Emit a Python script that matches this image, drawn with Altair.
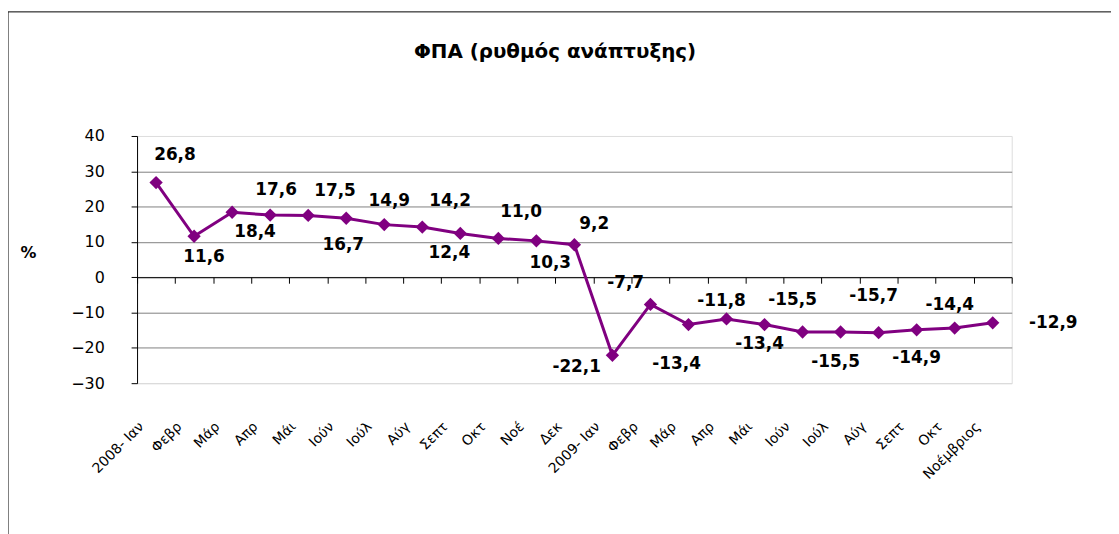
import json
import altair as alt
import pandas as pd

# ---- data ----
months = ["2008- Ιαν", "Φεβρ", "Μάρ", "Απρ", "Μάι", "Ιούν", "Ιούλ", "Αύγ",
          "Σεπτ", "Οκτ", "Νοέ", "Δεκ", "2009- Ιαν", "Φεβρ", "Μάρ", "Απρ",
          "Μάι", "Ιούν", "Ιούλ", "Αύγ", "Σεπτ", "Οκτ", "Νοέμβριος"]
values = [26.8, 11.6, 18.4, 17.6, 17.5, 16.7, 14.9, 14.2, 12.4, 11.0, 10.3, 9.2,
          -22.1, -7.7, -13.4, -11.8, -13.4, -15.5, -15.5, -15.7, -14.9, -14.4, -12.9]
# label nudges (pixels) relative to each point
label_dx = [19, 10, 23, 6, 27, -3, 5, 28, -11, 23, 14, 20,
            -36, -25, -12, -5, -5, -10, -5, -5, 0, -5, 61]
label_dy = [-28, 21, 20, -25, -25, 27, -24, -26, 20, -27, 22, -21,
            12, -22, 40, -18, 20, -32, 30, -37, 28, -23, 0]
y_ticks = [-30, -20, -10, 0, 10, 20, 30, 40]
title_text = "ΦΠΑ (ρυθμός ανάπτυξης)"

FONT = "DejaVu Sans"
PURPLE = "#800080"
W, H = 881, 249
YMIN, YMAX = -30, 40

df = pd.DataFrame({
    "idx": list(range(len(values))),
    "value": values,
    "label": [f"{v:.1f}".replace(".", ",") for v in values],
})

label_expr = json.dumps(months, ensure_ascii=False) + "[datum.value]"
zero_offset = -H * (0 - YMIN) / (YMAX - YMIN)

x_enc = alt.X(
    "idx:O",
    scale=alt.Scale(type="band", paddingInner=0, paddingOuter=0),
    axis=alt.Axis(
        title=None,
        orient="bottom",
        offset=zero_offset,
        labelExpr=label_expr,
        labelAngle=-45,
        labelAlign="right",
        labelBaseline="middle",
        labelPadding=142,
        labelOffset=-15,
        labelFont=FONT,
        labelFontSize=14,
        labelColor="black",
        labelOverlap=False,
        labelBound=False,
        labelFlush=False,
        domainColor="black",
        domainWidth=1,
        tickColor="black",
        tickSize=6,
        tickBand="extent",
        grid=False,
    ),
)

y_enc = alt.Y(
    "value:Q",
    scale=alt.Scale(domain=[YMIN, YMAX], nice=False, zero=False),
    axis=alt.Axis(
        values=y_ticks,
        title="%",
        titleAngle=0,
        titleAlign="center",
        titleBaseline="middle",
        titleX=-110,
        titleY=117,
        titleFont=FONT,
        titleFontSize=16,
        titleFontWeight="bold",
        titleColor="black",
        labelFont=FONT,
        labelFontSize=16,
        labelColor="black",
        labelPadding=27,
        domainColor="black",
        tickColor="black",
        tickSize=6,
        grid=True,
        gridColor={"condition": {"test": "datum.value === -30", "value": "#d9d9d9"},
                   "value": "#808080"},
        gridOpacity={"condition": {"test": "datum.value === 40", "value": 0},
                     "value": 1},
        gridWidth=1,
    ),
)

base = alt.Chart(df)

line = base.mark_line(color=PURPLE, strokeWidth=3).encode(x=x_enc, y=y_enc)
points = base.mark_point(shape="diamond", filled=True, size=180, color=PURPLE,
                         opacity=1).encode(x=x_enc, y=y_enc)

label_layers = []
for i in range(len(values)):
    label_layers.append(
        base.transform_filter(alt.datum.idx == i).mark_text(
            font=FONT, fontSize=17, fontWeight="bold", color="black",
            align="center", baseline="middle",
            dx=label_dx[i], dy=label_dy[i],
        ).encode(x=x_enc, y=y_enc, text="label:N")
    )

one = alt.Data(values=[{"k": 0}])
frame_left = alt.Chart(one).mark_rule(color="black", strokeWidth=1).encode(
    x=alt.value(-130), y=alt.value(-125), y2=alt.value(H + 200))
frame_top = alt.Chart(one).mark_rule(color="black", strokeWidth=1).encode(
    x=alt.value(-130), x2=alt.value(W + 200), y=alt.value(-125))
title = alt.Chart(one).mark_text(
    font=FONT, fontSize=20, fontWeight="bold", color="black",
    align="center", baseline="middle",
).encode(x=alt.value(421), y=alt.value(-85), text=alt.value(title_text))

chart = alt.layer(frame_left, frame_top, title, line, points, *label_layers).properties(
    width=W,
    height=H,
    autosize=alt.AutoSizeParams(type="none"),
    padding={"left": 130, "top": 127, "right": 100, "bottom": 150},
).configure_view(stroke=None).configure(background="white")

chart.save("out.html", embed_options={"renderer": "svg", "actions": False})
